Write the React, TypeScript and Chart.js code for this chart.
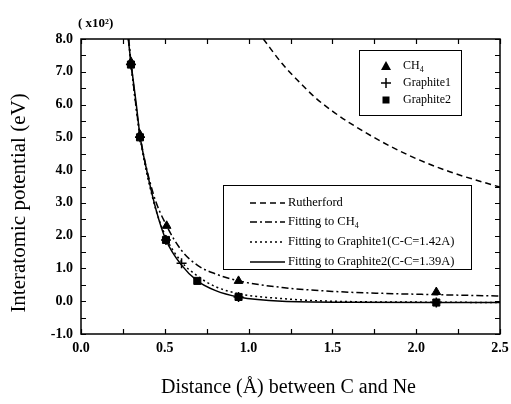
import React, { useEffect, useRef } from "react";
import { Chart, registerables } from "chart.js";

Chart.register(...registerables);

// ---- data (y in units of 10^2 eV) ----
const xTickValues = [0, 0.5, 1.0, 1.5, 2.0, 2.5];
const yTickValues = [-1, 0, 1, 2, 3, 4, 5, 6, 7, 8];

const ch4PointsX = [0.298, 0.352, 0.511, 0.94, 2.12];
const ch4PointsY = [7.3, 5.08, 2.3, 0.62, 0.28];

const graphite1PointsX = [0.298, 0.352, 0.507, 0.6, 0.94, 2.12];
const graphite1PointsY = [7.22, 5.0, 1.87, 1.16, 0.13, -0.04];

const graphite2PointsX = [0.298, 0.352, 0.507, 0.694, 0.94, 2.12];
const graphite2PointsY = [7.22, 5.0, 1.87, 0.62, 0.13, -0.04];

const rutherfordX = [1.088, 1.2, 1.3, 1.4, 1.5, 1.6, 1.8, 2.0, 2.2, 2.4, 2.5];
const rutherfordY = [8.0, 7.25, 6.7, 6.2, 5.8, 5.45, 4.85, 4.35, 3.95, 3.63, 3.48];

const fitCh4X = [0.285, 0.298, 0.352, 0.43, 0.511, 0.6, 0.7, 0.8, 0.94, 1.2, 1.5, 1.8, 2.12, 2.5];
const fitCh4Y = [8.0, 7.3, 5.08, 3.3, 2.3, 1.55, 1.08, 0.84, 0.62, 0.42, 0.3, 0.24, 0.2, 0.16];

const fitG1X = [0.283, 0.298, 0.352, 0.43, 0.507, 0.6, 0.7, 0.8, 0.94, 1.2, 1.5, 2.12, 2.5];
const fitG1Y = [8.0, 7.25, 5.03, 3.1, 1.95, 1.2, 0.75, 0.45, 0.23, 0.08, 0.0, -0.03, -0.04];

const fitG2X = [0.282, 0.298, 0.33, 0.352, 0.392, 0.45, 0.507, 0.6, 0.694, 0.8, 0.94, 1.2, 1.6, 2.12, 2.5];
const fitG2Y = [8.0, 7.28, 6.0, 5.05, 4.0, 2.75, 1.87, 1.1, 0.62, 0.33, 0.13, 0.0, -0.03, -0.04, -0.04];

const legendTopLabels = ["CH", "Graphite1", "Graphite2"];
const legendBottomLabels = [
  "Rutherford",
  "Fitting to CH",
  "Fitting to Graphite1(C-C=1.42A)",
  "Fitting to Graphite2(C-C=1.39A)",
];

const FONT = "'Liberation Serif', 'Times New Roman', serif";

const zip = (xs: number[], ys: number[]) => xs.map((x, i) => ({ x, y: ys[i] }));

const decorPlugin = {
  id: "decor",
  afterDraw(chart: any) {
    const { ctx, chartArea, scales } = chart;
    const xs = scales.x;
    const ys = scales.y;
    const { left, right, top, bottom } = chartArea;
    ctx.save();
    ctx.strokeStyle = "#000";
    ctx.fillStyle = "#000";
    // frame
    ctx.lineWidth = 1.5;
    ctx.strokeRect(left, top, right - left, bottom - top);
    // inward ticks
    ctx.lineWidth = 1.2;
    const tl = 5;
    for (let v = 0; v <= 2.5001; v += 0.25) {
      const px = Math.round(xs.getPixelForValue(v)) + 0.5;
      ctx.beginPath();
      ctx.moveTo(px, bottom);
      ctx.lineTo(px, bottom - tl);
      ctx.moveTo(px, top);
      ctx.lineTo(px, top + tl);
      ctx.stroke();
    }
    for (let v = -1; v <= 8.0001; v += 0.5) {
      const py = Math.round(ys.getPixelForValue(v)) + 0.5;
      ctx.beginPath();
      ctx.moveTo(left, py);
      ctx.lineTo(left + tl, py);
      ctx.moveTo(right, py);
      ctx.lineTo(right - tl, py);
      ctx.stroke();
    }

    // axis titles
    ctx.font = `20px ${FONT}`;
    ctx.textAlign = "center";
    ctx.textBaseline = "middle";
    ctx.fillText("Distance (Å) between C and Ne", (left + right) / 2 - 2, 388);
    ctx.save();
    ctx.translate(19, 203);
    ctx.rotate(-Math.PI / 2);
    ctx.font = `21px ${FONT}`;
    ctx.fillText("Interatomic potential (eV)", 0, 0);
    ctx.restore();

    // multiplier
    ctx.font = `bold 13px ${FONT}`;
    ctx.textAlign = "left";
    ctx.textBaseline = "alphabetic";
    ctx.fillText("( x10²)", 78, 27);

    // top legend box
    ctx.lineWidth = 1;
    ctx.strokeRect(359.5, 50.5, 102, 65);
    const mx = 386;
    const rowsTop = [66, 83, 100];
    // triangle
    ctx.beginPath();
    ctx.moveTo(mx, rowsTop[0] - 5);
    ctx.lineTo(mx + 5, rowsTop[0] + 4);
    ctx.lineTo(mx - 5, rowsTop[0] + 4);
    ctx.closePath();
    ctx.fill();
    // cross
    ctx.lineWidth = 1.5;
    ctx.beginPath();
    ctx.moveTo(mx - 5, rowsTop[1]);
    ctx.lineTo(mx + 5, rowsTop[1]);
    ctx.moveTo(mx, rowsTop[1] - 5);
    ctx.lineTo(mx, rowsTop[1] + 5);
    ctx.stroke();
    // square
    ctx.fillRect(mx - 3.5, rowsTop[2] - 3.5, 7, 7);
    ctx.font = `12px ${FONT}`;
    ctx.textBaseline = "middle";
    legendTopLabels.forEach((t, i) => {
      ctx.fillText(t, 403, rowsTop[i]);
    });
    const chW = ctx.measureText(legendTopLabels[0]).width;
    ctx.font = `8px ${FONT}`;
    ctx.fillText("4", 403 + chW, rowsTop[0] + 4);

    // bottom legend box
    ctx.lineWidth = 1;
    ctx.strokeRect(223.5, 185.5, 248, 84);
    const rowsBot = [203, 222, 242, 262];
    const dashes = [[6, 4], [7, 3, 2, 3], [2, 3], []];
    dashes.forEach((d, i) => {
      ctx.setLineDash(d);
      ctx.lineWidth = 1.5;
      ctx.beginPath();
      ctx.moveTo(250, rowsBot[i]);
      ctx.lineTo(285, rowsBot[i]);
      ctx.stroke();
    });
    ctx.setLineDash([]);
    ctx.font = `12.5px ${FONT}`;
    legendBottomLabels.forEach((t, i) => {
      ctx.fillText(t, 288, rowsBot[i]);
    });
    const fw = ctx.measureText(legendBottomLabels[1]).width;
    ctx.font = `8px ${FONT}`;
    ctx.fillText("4", 288 + fw, rowsBot[1] + 4);
    ctx.restore();
  },
};

export default function App() {
  const ref = useRef<HTMLCanvasElement | null>(null);
  useEffect(() => {
    document.body.style.margin = "0";
    const canvas = ref.current;
    if (!canvas) return;
    const lineBase = {
      type: "line" as const,
      showLine: true,
      pointRadius: 0,
      borderColor: "#000",
      backgroundColor: "#000",
      borderWidth: 1.5,
      cubicInterpolationMode: "monotone" as const,
      fill: false,
    };
    const chart = new Chart(canvas, {
      type: "scatter",
      data: {
        datasets: [
          { ...lineBase, label: "Rutherford", data: zip(rutherfordX, rutherfordY), borderDash: [6, 4] },
          { ...lineBase, label: "Fitting to CH4", data: zip(fitCh4X, fitCh4Y), borderDash: [7, 3, 2, 3] },
          { ...lineBase, label: "Fitting to Graphite1", data: zip(fitG1X, fitG1Y), borderDash: [2, 3] },
          { ...lineBase, label: "Fitting to Graphite2", data: zip(fitG2X, fitG2Y) },
          {
            label: "CH4",
            data: zip(ch4PointsX, ch4PointsY),
            pointStyle: "triangle",
            pointRadius: 5,
            backgroundColor: "#000",
            borderColor: "#000",
            borderWidth: 1,
          },
          {
            label: "Graphite1",
            data: zip(graphite1PointsX, graphite1PointsY),
            pointStyle: "cross",
            pointRadius: 5,
            backgroundColor: "#000",
            borderColor: "#000",
            borderWidth: 1.5,
          },
          {
            label: "Graphite2",
            data: zip(graphite2PointsX, graphite2PointsY),
            pointStyle: "rect",
            pointRadius: 5,
            backgroundColor: "#000",
            borderColor: "#000",
            borderWidth: 1,
          },
        ] as any,
      },
      options: {
        animation: false,
        responsive: true,
        maintainAspectRatio: false,
        layout: { padding: { top: 39, right: 11, left: 0, bottom: 0 } },
        plugins: { legend: { display: false }, tooltip: { enabled: false } },
        scales: {
          x: {
            type: "linear",
            min: 0,
            max: 2.5,
            afterFit: (s: any) => {
              s.height = 70;
              s.paddingLeft = 0;
              s.paddingRight = 0;
            },
            afterBuildTicks: (s: any) => {
              s.ticks = xTickValues.map((v) => ({ value: v }));
            },
            grid: { display: false, drawTicks: false },
            border: { display: false },
            ticks: {
              padding: 6,
              color: "#000",
              font: { family: FONT, size: 14, weight: "bold" },
              callback: (v: any) => Number(v).toFixed(1),
            },
          },
          y: {
            type: "linear",
            min: -1,
            max: 8,
            afterFit: (s: any) => {
              s.width = 81;
              s.paddingTop = 0;
              s.paddingBottom = 0;
            },
            afterBuildTicks: (s: any) => {
              s.ticks = yTickValues.map((v) => ({ value: v }));
            },
            grid: { display: false, drawTicks: false },
            border: { display: false },
            ticks: {
              padding: 8,
              color: "#000",
              font: { family: FONT, size: 14, weight: "bold" },
              callback: (v: any) => Number(v).toFixed(1),
            },
          },
        },
      } as any,
      plugins: [decorPlugin],
    });
    return () => chart.destroy();
  }, []);
  return (
    <div style={{ width: 511, height: 404, position: "relative", background: "#fff" }}>
      <canvas ref={ref} />
    </div>
  );
}
